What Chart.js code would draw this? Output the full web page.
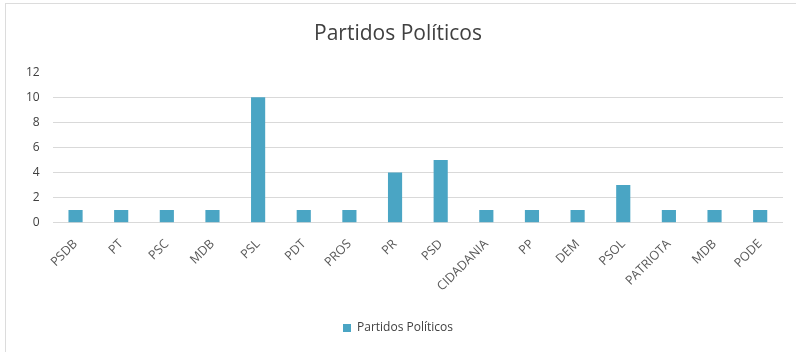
<!DOCTYPE html>
<html>
<head>
<meta charset="utf-8">
<script src="https://cdn.jsdelivr.net/npm/chart.js@4.4.1/dist/chart.umd.min.js"></script>
<style>
  body { margin: 0; background: #fff; }
  #frame { position: absolute; left: 5px; top: 3px; width: 790px; height: 348px; border: 1px solid #dcdcdc; border-right: none; border-bottom: none; }
  #chart { display: block; }
</style>
</head>
<body>
<div id="frame"><canvas id="chart" width="790" height="348"></canvas></div>
<script>
const partidos = ['PSDB', 'PT', 'PSC', 'MDB', 'PSL', 'PDT', 'PROS', 'PR', 'PSD', 'CIDADANIA', 'PP', 'DEM', 'PSOL', 'PATRIOTA', 'MDB', 'PODE'];
const quantidade = [1, 1, 1, 1, 10, 1, 1, 4, 5, 1, 1, 1, 3, 1, 1, 1];
const serieNome = 'Partidos Políticos';

const fonte = "'Open Sans', 'Liberation Sans', sans-serif";

const ctx = document.getElementById('chart').getContext('2d');
const myChart = new Chart(ctx, {
  type: 'bar',
  data: {
    labels: partidos,
    datasets: [{
      label: serieNome,
      data: quantidade,
      backgroundColor: '#4aa5c4',
      borderWidth: 0,
      barPercentage: 0.62,
      categoryPercentage: 0.5
    }]
  },
  options: {
    responsive: false,
    animation: false,
    layout: { padding: { left: 7, right: 13, top: 0, bottom: 8 } },
    plugins: {
      title: {
        display: true,
        text: 'Partidos Políticos',
        color: '#404040',
        font: { family: fonte, size: 21, weight: 'normal' },
        padding: { top: 17, bottom: 26 }
      },
      legend: {
        position: 'bottom',
        labels: {
          color: '#404040',
          font: { family: fonte, size: 12 },
          boxWidth: 8,
          boxHeight: 8,
          padding: 22
        }
      },
      tooltip: { enabled: false }
    },
    scales: {
      x: {
        grid: { display: false },
        border: { display: false },
        ticks: {
          color: '#595959',
          font: { family: fonte, size: 12.5 },
          maxRotation: 45,
          minRotation: 45,
          autoSkip: false,
          padding: 6
        }
      },
      y: {
        min: 0,
        max: 12,
        border: { display: false },
        grid: {
          color: (c) => c.tick && c.tick.value === 12 ? 'rgba(0,0,0,0)' : '#d9d9d9',
          drawTicks: false
        },
        ticks: {
          stepSize: 2,
          color: '#404040',
          font: { family: fonte, size: 12 },
          padding: 13
        }
      }
    }
  }
});
</script>
</body>
</html>
